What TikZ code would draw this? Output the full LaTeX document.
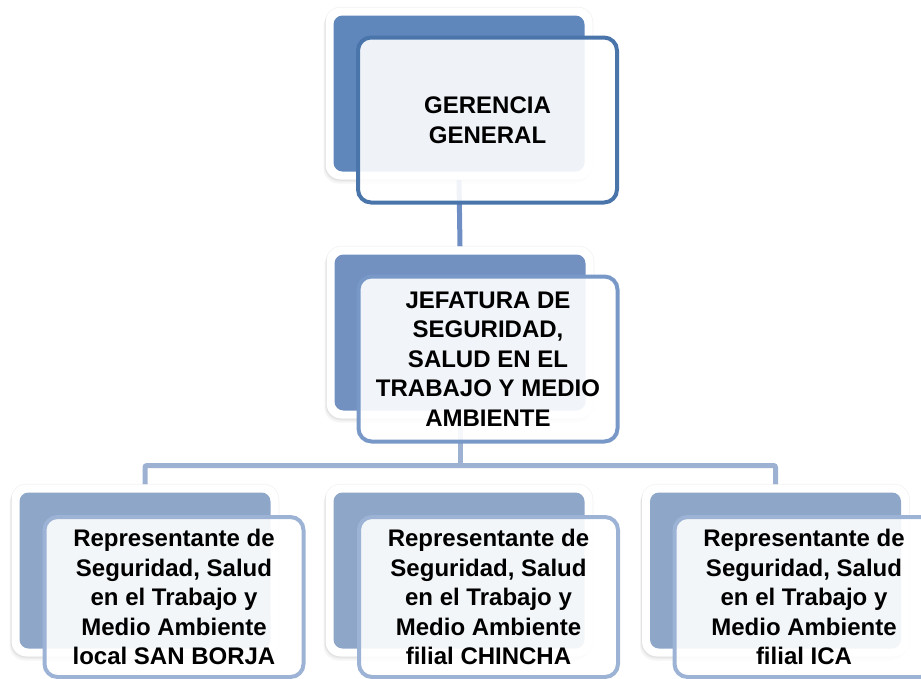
\documentclass[tikz,border=0pt]{standalone}
\usepackage{fontspec}
\setmainfont{Liberation Sans}
\usetikzlibrary{backgrounds}
\definecolor{backA}{HTML}{5F87BC}
\definecolor{backB}{HTML}{7291C1}
\definecolor{backC}{HTML}{8EA7C9}
\definecolor{lineA}{HTML}{4A75AB}
\definecolor{lineB}{HTML}{7899C8}
\definecolor{lineC}{HTML}{9DB3D6}
\definecolor{connA}{HTML}{6F8FC4}
\definecolor{connB}{HTML}{9DB1D3}
\tikzset{
  frame/.style={rectangle, rounded corners=15pt, fill=white,
    inner sep=0pt, minimum width=267pt, minimum height=172pt,
    preaction={fill=black, fill opacity=0.04,
      transform canvas={xshift=-2pt, yshift=-4pt}},
    preaction={fill=black, fill opacity=0.05,
      transform canvas={xshift=-1pt, yshift=-2pt}},
    preaction={draw=black, draw opacity=0.05, line width=1.5pt}},
  backbox/.style={rectangle, rounded corners=9pt, inner sep=0pt,
    minimum width=251pt, minimum height=156pt},
  frontbox/.style={rectangle, rounded corners=13pt, line width=4pt,
    fill=white, fill opacity=0.9, text opacity=1, text=black, inner sep=0pt,
    minimum width=259pt, align=center,
    font=\bfseries\fontsize{24}{29.5}\selectfont},
  conn/.style={line width=5pt}
}
\begin{document}
\begin{tikzpicture}[x=1pt,y=-1pt]
\useasboundingbox (0,0) rectangle (921,678);
\clip (0,0) rectangle (921,678);
% frames and back boxes
\node[frame] (ggf) at (459,93.5) {};
\node[backbox, fill=backA] (ggb) at (ggf) {};
\node[frame] (jbf) at (460,332.5) {};
\node[backbox, fill=backB] (jbb) at (jbf) {};
\node[frame] (r1f) at (145,570.5) {};
\node[backbox, fill=backC] (r1b) at (r1f) {};
\node[frame] (r2f) at (459,570.5) {};
\node[backbox, fill=backC] (r2b) at (r2f) {};
\node[frame] (r3f) at (775.5,570.5) {};
\node[backbox, fill=backC] (r3b) at (r3f) {};
% front boxes
\node[frontbox, draw=lineA, minimum height=165pt] (gg) at (487.5,120)
  {GERENCIA\\GENERAL};
\node[frontbox, draw=lineB, minimum height=165pt] (jb) at (488,359)
  {JEFATURA DE\\SEGURIDAD,\\SALUD EN EL\\TRABAJO Y MEDIO\\AMBIENTE};
\node[frontbox, draw=lineC, minimum height=160pt] (r1) at (174,597)
  {Representante de\\Seguridad, Salud\\en el Trabajo y\\Medio Ambiente\\local SAN BORJA};
\node[frontbox, draw=lineC, minimum height=160pt] (r2) at (488.5,597)
  {Representante de\\Seguridad, Salud\\en el Trabajo y\\Medio Ambiente\\filial CHINCHA};
\node[frontbox, draw=lineC, minimum height=160pt] (r3) at (804,597)
  {Representante de\\Seguridad, Salud\\en el Trabajo y\\Medio Ambiente\\filial ICA};
% connectors (behind)
\coordinate (bus) at (460,465.5);
\begin{scope}[on background layer]
\draw[conn, draw=connA] (ggf.south) -- (jbf.north);
\draw[conn, draw=connB] (jbf.south) -- (bus);
\draw[conn, draw=connB, rounded corners=2pt] (r1f.north) |- (bus) -| (r3f.north);
\end{scope}
\end{tikzpicture}
\end{document}
